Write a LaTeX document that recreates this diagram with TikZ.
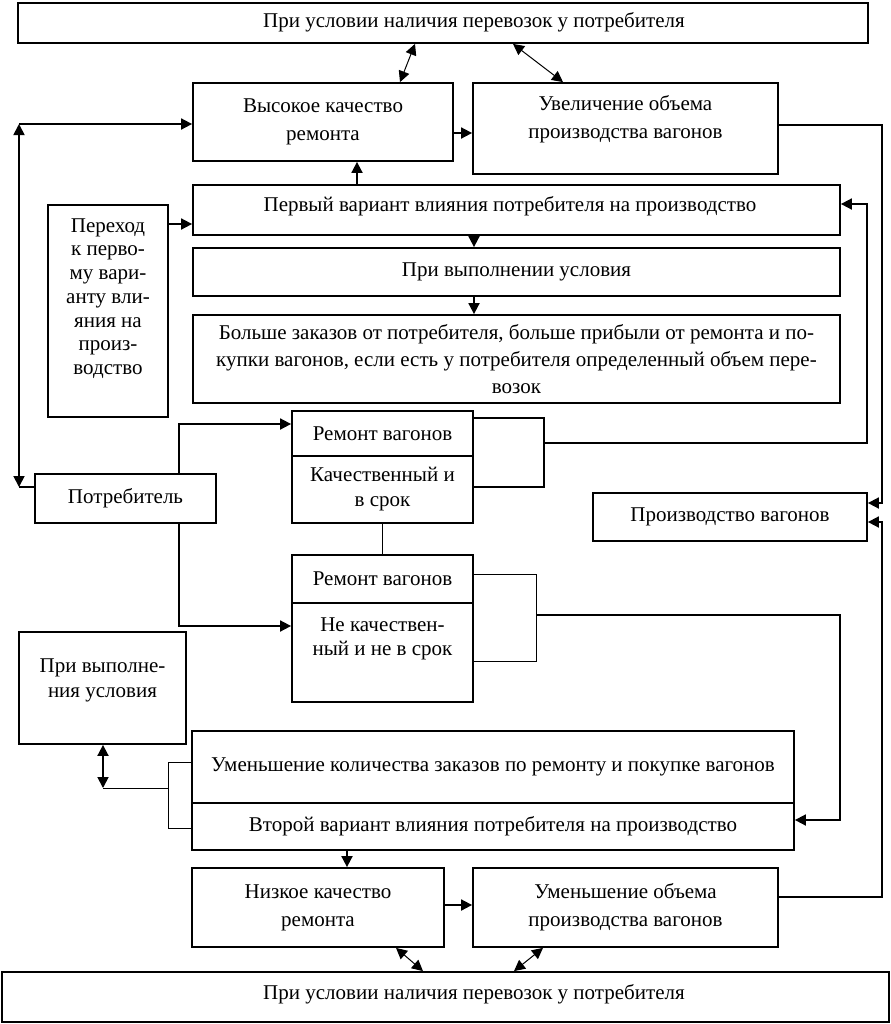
\documentclass[tikz,border=0pt]{standalone}
\usepackage{fontspec}
\setmainfont{Liberation Serif}
\usetikzlibrary{arrows.meta}
\tikzset{
	txt/.style={align=center, inner sep=0pt, font=\fontsize{10.5}{14}\selectfont},
	box/.style={txt, draw, line width=0.9pt},
	arr/.style={-{Triangle[length=5.5pt,width=5.5pt]}},
	dbl/.style={{Triangle[length=5.5pt,width=5.5pt]}-{Triangle[length=5.5pt,width=5.5pt]}},
}
\begin{document}
\begin{tikzpicture}[x=0.5pt, y=-0.5pt, line width=0.9pt]
				\useasboundingbox (0,0) rectangle (890,1024);
				\node[box, minimum width=425pt, minimum height=20pt] (top) at (443,23) {};
				\node[txt] (topt) at (474,22) {При условии наличия перевозок у потребителя};
				\node[box, minimum width=130pt, minimum height=39pt] (vys) at (323,122) {Высокое качество\\ремонта};
				\node[box, minimum width=152.5pt, minimum height=45.5pt] (uvel) at (625.5,128.5) {};
				\node[txt] (uvelt) at (625.5,119) {Увеличение объема\\производства вагонов};
				\node[box, minimum width=323.5pt, minimum height=25pt] (perv) at (516.5,210) {};
				\node[txt] (pervt) at (510,206) {Первый вариант влияния потребителя на производство};
				\node[box, minimum width=323.5pt, minimum height=24pt] (usl) at (516.5,272) {При выполнении условия};
				\node[box, minimum width=323.5pt, minimum height=44pt, font=\fontsize{10.5}{13.5}\selectfont] (bolshe) at (516.5,359) {Больше заказов от потребителя, больше прибыли от ремонта и по-\\купки вагонов, если есть у потребителя определенный объем пере-\\возок};
				\node[box, minimum width=60pt, minimum height=106pt] (perehod) at (108,311) {};
				\node[txt, font=\fontsize{10.5}{11.85}\selectfont] (perehodt) at (108,298.5) {Переход\\к перво-\\му вари-\\анту вли-\\яния на\\произ-\\водство};
				\node[box, minimum width=90.5pt, minimum height=22.5pt] (rem1) at (382.5,433.5) {Ремонт вагонов};
				\node[box, minimum width=90.5pt, minimum height=33.5pt, font=\fontsize{10.5}{12.5}\selectfont] (kach) at (382.5,489.5) {Качественный и\\в срок};
				\node[box, minimum width=90.5pt, minimum height=24.5pt] (potr) at (125.5,498.5) {Потребитель};
				\node[box, minimum width=137pt, minimum height=24pt] (proizv) at (730,517) {Производство вагонов};
				\node[box, minimum width=90.5pt, minimum height=24pt] (rem2) at (382.5,579) {Ремонт вагонов};
				\node[box, minimum width=90.5pt, minimum height=49.5pt] (nekach) at (382.5,652.5) {};
				\node[txt, font=\fontsize{10.5}{12}\selectfont] (nekacht) at (382.5,639) {Не качествен-\\ный и не в срок};
				\node[box, minimum width=83.5pt, minimum height=56pt] (pri) at (102.5,688) {};
				\node[txt, font=\fontsize{10.5}{12.5}\selectfont] (prit) at (102.5,680) {При выполне-\\ния условия};
				\node[box, minimum width=301pt, minimum height=36pt] (umen) at (493,767) {Уменьшение количества заказов по ремонту и покупке вагонов};
				\node[box, minimum width=301pt, minimum height=23.5pt] (vtor) at (493,826.5) {Второй вариант влияния потребителя на производство};
				\node[box, minimum width=126pt, minimum height=39.5pt] (nizk) at (318,907.5) {Низкое качество\\ремонта};
				\node[box, minimum width=152.5pt, minimum height=39.5pt] (umob) at (625.5,907.5) {Уменьшение объема\\производства вагонов};
				\node[box, minimum width=443.5pt, minimum height=25pt] (bot) at (445.5,997) {};
				\node[txt] (bott) at (474,994) {При условии наличия перевозок у потребителя};
				\coordinate (lt) at (19,124);
				\coordinate (lb) at (19,487);
				\draw[dbl, line width=0.5pt] ([xshift=-14pt]top.south) to ([xshift=38.5pt]vys.north);
				\draw[dbl, line width=0.5pt] ([xshift=35pt]top.south) to ([xshift=-31.25pt]uvel.north);
				\draw[arr] (vys.east |- 0,133) to (uvel.west |- 0,133);
				\draw[arr] (lt) to (vys.west |- lt);
				\draw[dbl] (lt) to (lb);
				\draw (lb) to (potr.west |- lb);
				\draw[arr] (uvel.east |- 0,125) -| (882,503) to (proizv.east |- 0,503);
				\draw[arr] (umob.east |- 0,897) -| (882,522) to (proizv.east |- 0,522);
				\draw[arr] (perv.north -| 357,0) to (vys.south -| 357,0);
				\draw[arr] (perv.south -| 474,0) to (usl.north -| 474,0);
				\draw[arr] (usl.south -| 474,0) to (bolshe.north -| 474,0);
				\draw[arr] (perehod.east |- 0,224) to (perv.west |- 0,224);
				\draw (rem1.east |- 0,418) -| (544,487) to (kach.east |- 0,487);
				\draw[arr] (544,443) -| (867,204) to (perv.east |- 0,204);
				\draw[line width=0.5pt] (rem2.east |- 0,574) -| (536,661) to (nekach.east |- 0,661);
				\draw[arr] (536,615) -| (840,820) to (vtor.east |- 0,820);
				\draw[arr] (potr.north -| 179,0) |- (rem1.west |- 0,424);
				\draw[arr] (potr.south -| 179,0) |- (nekach.west |- 0,626);
				\draw (kach.south) to (rem2.north);
				\draw[dbl] (pri.south -| 103,0) to (103,788);
				\draw[line width=0.5pt] (103,788) to (168,788);
				\draw[line width=0.5pt] (umen.west |- 0,762) -| (168,828) to (vtor.west |- 0,828);
				\draw[arr] (vtor.south -| 347,0) to (nizk.north -| 347,0);
				\draw[arr] (nizk.east |- 0,905) to (umob.west |- 0,905);
				\draw[dbl, line width=0.5pt] ([xshift=39pt]nizk.south) to ([xshift=-11.25pt]bot.north);
				\draw[dbl, line width=0.5pt] ([xshift=-41.25pt]umob.south) to ([xshift=34.25pt]bot.north);
\end{tikzpicture}
\end{document}
